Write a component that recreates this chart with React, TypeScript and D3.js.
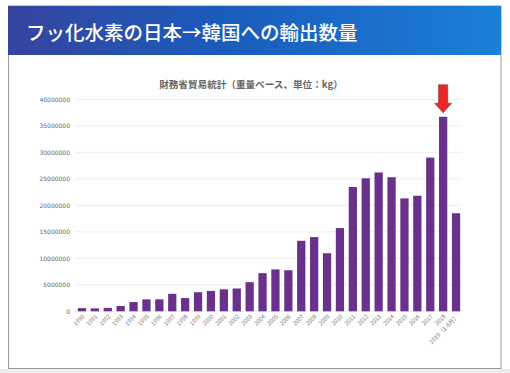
import React from "react";
import * as d3 from "d3";

const years = ["1990","1991","1992","1993","1994","1995","1996","1997","1998","1999","2000","2001","2002","2003","2004","2005","2006","2007","2008","2009","2010","2011","2012","2013","2014","2015","2016","2017","2018","2019（1-6月）"];
const values = [600000,550000,650000,1000000,1750000,2250000,2260000,3300000,2500000,3600000,3850000,4150000,4300000,5500000,7200000,7900000,7750000,13300000,14000000,10950000,15700000,23450000,25100000,26200000,25300000,21300000,21800000,29000000,36700000,18500000];
const yTicks = [0,5000000,10000000,15000000,20000000,25000000,30000000,35000000,40000000];
const pageTitle = "フッ化水素の日本→韓国への輸出数量";
const chartTitle = "財務省貿易統計（重量ベース、単位：kg）";
const highlightYear = "2018";

export default function App() {
  const W = 510, H = 373;
  const x = d3.scaleBand<string>().domain(years).range([75.5, 462.5]).paddingInner(0.36).paddingOuter(0.18);
  const y = d3.scaleLinear().domain([0, 40000000]).range([311.3, 99.3]);
  const font = "'Noto Sans CJK JP', 'Noto Sans', sans-serif";
  const hx = (x(highlightYear) ?? 0) + x.bandwidth() / 2;
  const hv = values[years.indexOf(highlightYear)];
  const tipY = y(hv) - 4;
  return (
    <svg width={W} height={H} style={{ position: "absolute", left: 0, top: 0, background: "#fff" }}>
      <defs>
        <linearGradient id="hdr" x1="0" x2="1" y1="0" y2="0">
          <stop offset="0" stopColor="#35449f" />
          <stop offset="0.45" stopColor="#1a5cbc" />
          <stop offset="1" stopColor="#1a80d8" />
        </linearGradient>
      </defs>
      <rect x={0} y={0} width={W} height={H} fill="#fff" />
      <rect x={8.5} y={6} width={492.5} height={362.5} fill="#fff" stroke="#9a9a9a" strokeWidth={1} />
      <rect x={0} y={369} width={W} height={4} fill="#ececec" />
      <rect x={8} y={6} width={493} height={49} fill="url(#hdr)" />
      <text x={26} y={40} fill="#fff" fontFamily={font} fontSize={19.5} fontWeight={500}>{pageTitle}</text>
      <text x={251} y={88} textAnchor="middle" fill="#666" fontFamily={font} fontSize={9.6} fontWeight={700}>{chartTitle}</text>
      {yTicks.map(t => (
        <g key={t}>
          <line x1={75} x2={462} y1={y(t)} y2={y(t)} stroke="#e8e8e8" strokeWidth={0.8} />
          <text x={70} y={y(t) + 2.2} textAnchor="end" fill="#666" fontFamily="'DejaVu Sans', sans-serif" fontSize={6}>{t}</text>
        </g>
      ))}
      {years.map((yr, i) => (
        <rect key={yr} x={x(yr)} y={y(values[i])} width={x.bandwidth()} height={y(0) - y(values[i])} fill="#6a318a" />
      ))}
      {years.map(yr => {
        const cx = (x(yr) ?? 0) + x.bandwidth() / 2 + 3;
        return (
          <text key={yr} x={cx} y={317} textAnchor="end" transform={`rotate(-45 ${cx} 317)`} fill="#777" fontFamily={font} fontSize={5.8}>{yr}</text>
        );
      })}
      <path
        d={`M${hx - 4.6},${tipY - 28} L${hx + 4.6},${tipY - 28} L${hx + 4.6},${tipY - 9.5} L${hx + 8.5},${tipY - 9.5} L${hx},${tipY} L${hx - 8.5},${tipY - 9.5} L${hx - 4.6},${tipY - 9.5} Z`}
        fill="#e8262a" stroke="#9a2a2a" strokeWidth={0.6}
      />
    </svg>
  );
}
